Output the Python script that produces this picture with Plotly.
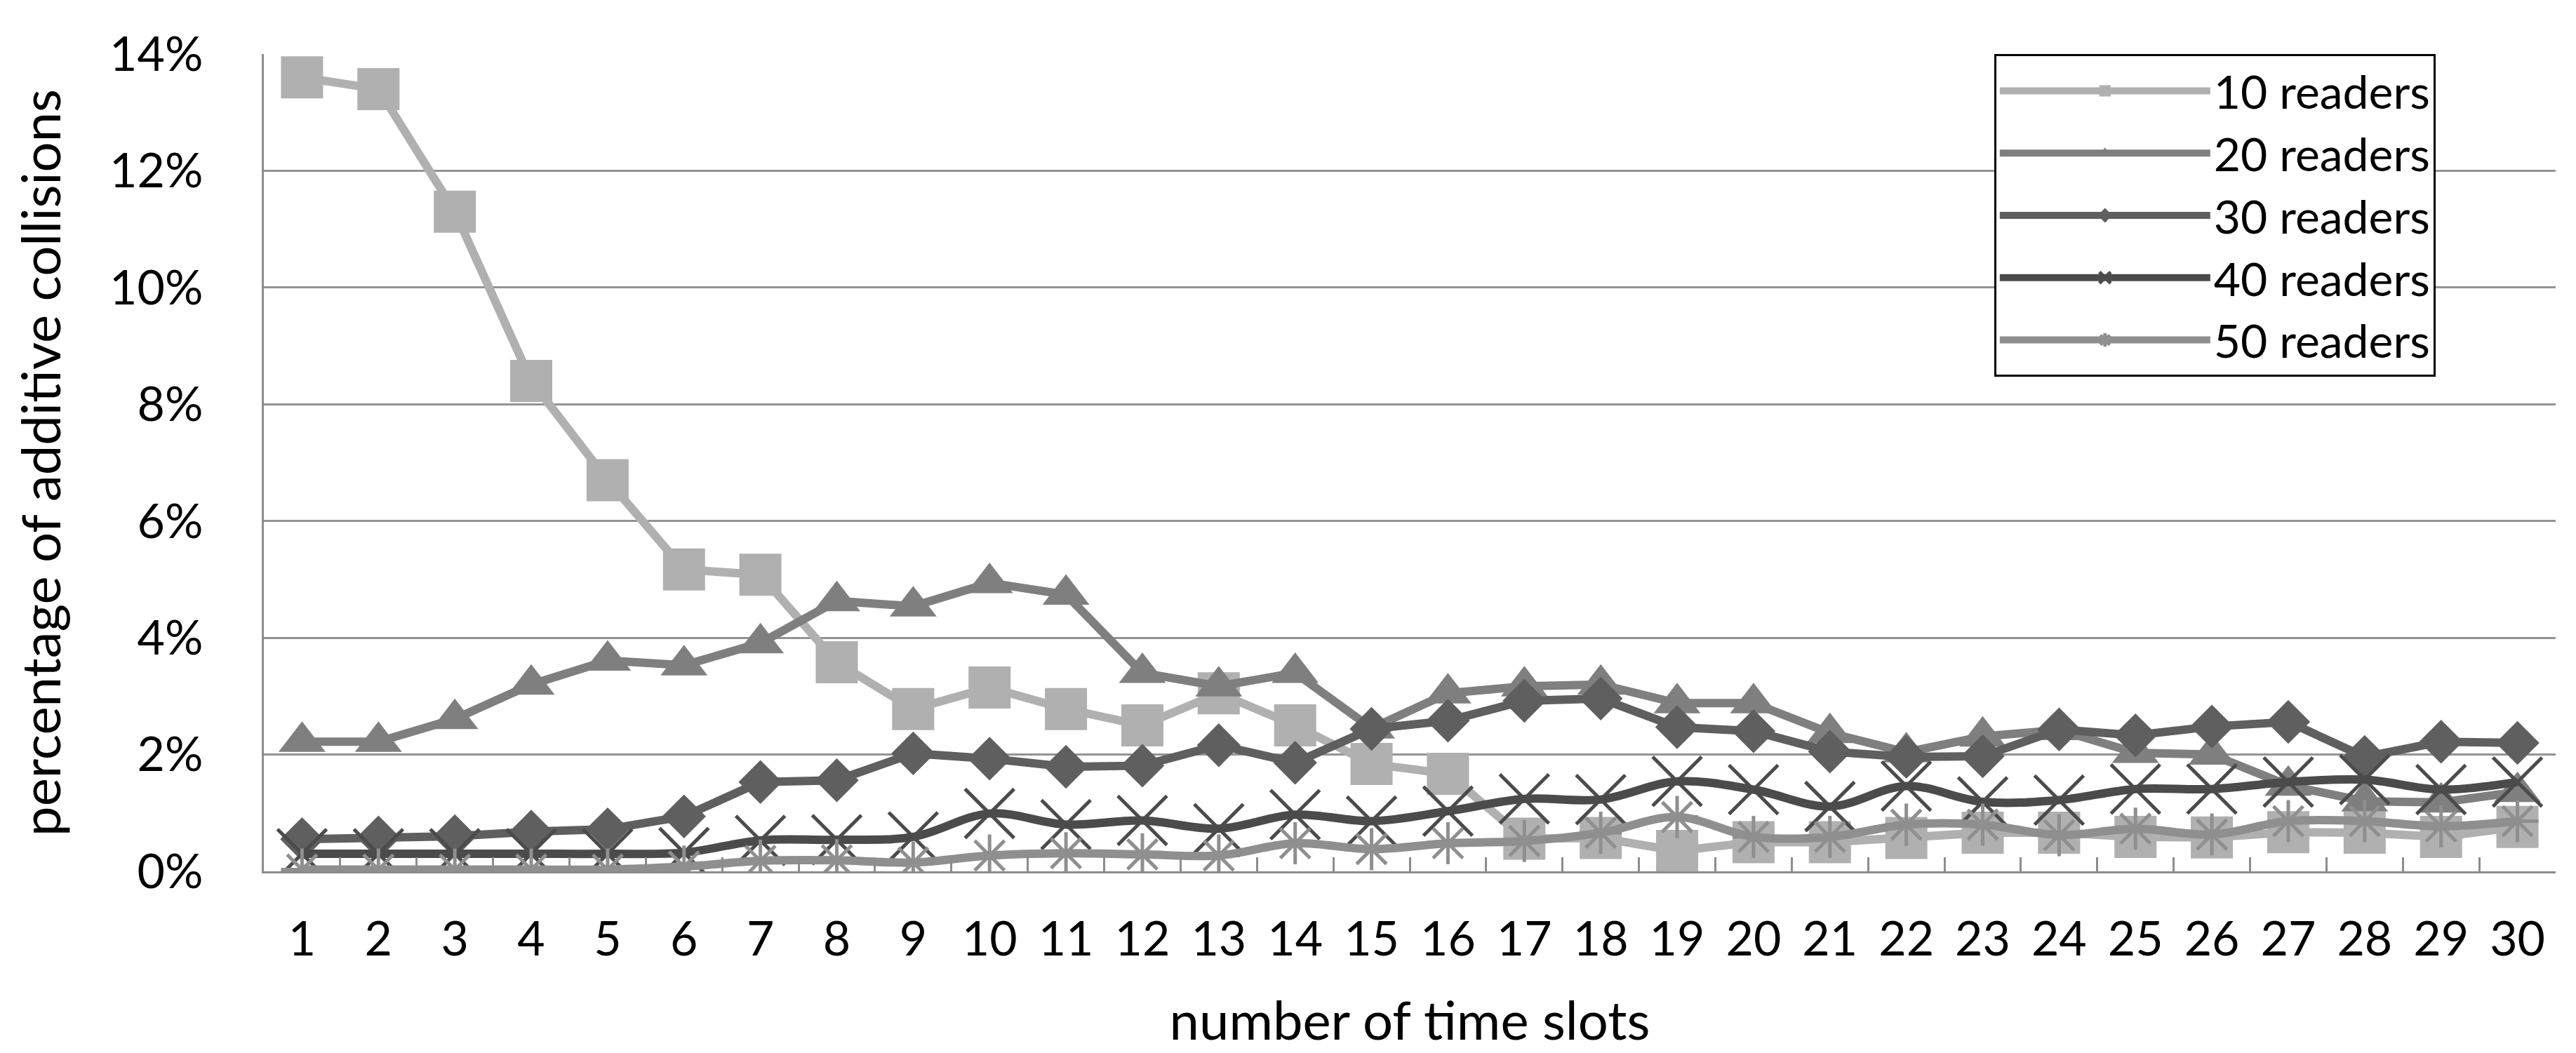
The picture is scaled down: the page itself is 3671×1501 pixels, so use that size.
import plotly.graph_objects as go

slots = [str(i) for i in range(1, 31)]

readers_10 = [13.6, 13.4, 11.3, 8.4, 6.7, 5.17, 5.08, 3.58, 2.78, 3.15, 2.78, 2.5, 3.05, 2.5, 1.84, 1.67,
              0.56, 0.57, 0.35, 0.5, 0.5, 0.57, 0.66, 0.66, 0.59, 0.58, 0.67, 0.66, 0.59, 0.76]
readers_20 = [2.22, 2.22, 2.61, 3.2, 3.61, 3.53, 3.91, 4.63, 4.54, 4.94, 4.74, 3.4, 3.17, 3.4, 2.45, 3.05,
              3.17, 3.2, 2.88, 2.88, 2.37, 2.04, 2.31, 2.42, 2.03, 2.0, 1.47, 1.2, 1.18, 1.36]
readers_30 = [0.55, 0.58, 0.6, 0.68, 0.72, 0.94, 1.53, 1.56, 2.02, 1.93, 1.79, 1.81, 2.16, 1.86, 2.44, 2.58,
              2.92, 2.96, 2.47, 2.4, 2.05, 1.96, 1.97, 2.43, 2.33, 2.48, 2.56, 1.96, 2.22, 2.2]
readers_40 = [0.3, 0.3, 0.3, 0.3, 0.3, 0.32, 0.53, 0.54, 0.59, 0.99, 0.8, 0.87, 0.73, 0.97, 0.86, 1.03,
              1.24, 1.23, 1.54, 1.4, 1.11, 1.46, 1.19, 1.22, 1.41, 1.41, 1.53, 1.57, 1.4, 1.53]
readers_50 = [0.03, 0.03, 0.03, 0.03, 0.03, 0.08, 0.18, 0.19, 0.15, 0.27, 0.31, 0.29, 0.27, 0.48, 0.38, 0.48,
              0.52, 0.66, 0.93, 0.59, 0.59, 0.8, 0.8, 0.62, 0.73, 0.63, 0.86, 0.86, 0.77, 0.86]

series = [
    ("10 readers", readers_10, "#b0b0b0", "square", 60, "linear"),
    ("20 readers", readers_20, "#7f7f7f", "triangle-up", 58, "linear"),
    ("30 readers", readers_30, "#5f5f5f", "diamond", 48, "linear"),
    ("40 readers", readers_40, "#4b4b4b", "x-thin", 70, "spline"),
    ("50 readers", readers_50, "#8f8f8f", "asterisk", 50, "spline"),
]

FONT = "Lato, 'Open Sans', sans-serif"

fig = go.Figure()
for name, vals, color, symbol, size, shape in series:
    thin = "thin" in symbol or symbol == "asterisk"
    fig.add_trace(go.Scatter(
        x=slots, y=vals, name=name, mode="lines+markers",
        line=dict(color=color, width=12, shape=shape),
        marker=dict(symbol=symbol, size=size, color=color,
                    line=dict(color=color, width=5 if thin else 0)),
    ))

fig.update_layout(
    width=3671, height=1501,
    margin=dict(l=368, r=37, t=69, b=267, autoexpand=False),
    paper_bgcolor="white", plot_bgcolor="white",
    font=dict(family=FONT, size=68, color="black"),
    showlegend=True,
    legend=dict(
        x=0.755, y=1, xanchor="left", yanchor="top",
        bgcolor="white", bordercolor="black", borderwidth=3,
        font=dict(family=FONT, size=66, color="black"),
        itemwidth=300, entrywidth=470, entrywidthmode="pixels", tracegroupgap=0,
    ),
)

fig.update_xaxes(
    type="category", range=[-0.5, 29.5], automargin=False,
    title=dict(text="number of time slots", font=dict(size=76), standoff=55),
    showgrid=False, showline=True, linecolor="#8c8c8c", linewidth=3,
    ticks="inside", tickson="boundaries", ticklen=20, tickwidth=3, tickcolor="#8c8c8c",
    ticklabelstandoff=35, tickfont=dict(size=68), zeroline=False,
)
fig.update_yaxes(
    range=[0, 14], dtick=2, ticksuffix="%", automargin=False,
    title=dict(text="percentage of additive collisions", font=dict(size=76), standoff=45),
    showgrid=True, gridcolor="#939393", gridwidth=3,
    showline=True, linecolor="#8c8c8c", linewidth=3, zeroline=False,
    ticks="", ticklabelstandoff=70, tickfont=dict(size=68),
)

fig.write_html("out.html")
